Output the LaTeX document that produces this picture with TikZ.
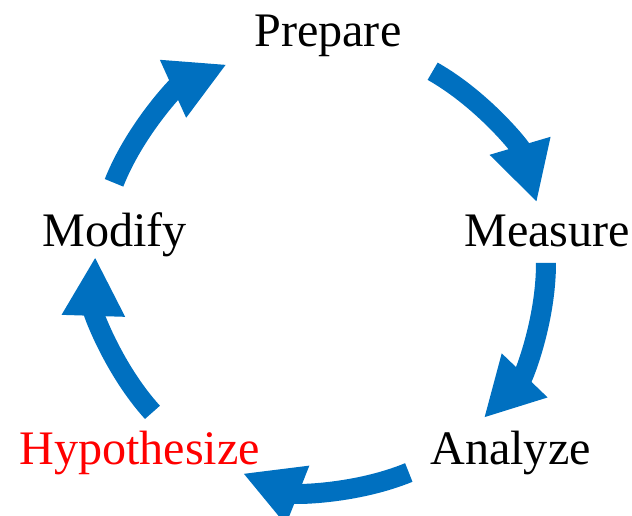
\documentclass[tikz,border=0pt]{standalone}
\usepackage{fontspec}
\setmainfont{Liberation Serif}
\usepackage{tikz}
\usetikzlibrary{arrows.meta}
\definecolor{cycleblue}{RGB}{0,112,192}
\definecolor{hyred}{RGB}{255,0,0}
\tikzset{
	stage/.style = {
		inner sep = 0pt,
		anchor = base west,
		font = \fontsize{27.4pt}{33pt}\selectfont
	},
	flow/.style = {
		draw = cycleblue,
		line width = 0.4cm,
		-{Triangle[length=1.18cm, width=1.18cm]},
		bend left = 22,
		looseness = 0.88
	}
}

\begin{document}
\begin{tikzpicture}[x=0.02cm, y=0.02cm]
    \useasboundingbox (0,0) rectangle (632,516) ;

    \node [stage] (prepare) at (254,469) {Prepare} ;
    \node [stage] (measure) at (464,269) {Measure} ;
    \node [stage] (analyze) at (430,51) {Analyze} ;
    \node [stage, text = hyred] (hypothesize) at (19,51) {Hypothesize} ;
    \node [stage] (modify) at (42,269) {Modify} ;

    % the circle all five arrows run on
    \coordinate (c) at (322,250) ;
    \coordinate (prepare-out) at ([shift={(60.4:224)}]c) ;
    \coordinate (measure-in) at ([shift={(16.5:224)}]c) ;
    \coordinate (measure-out) at ([shift={(0.8:224)}]c) ;
    \coordinate (analyze-in) at ([shift={(-43.2:222)}]c) ;
    \coordinate (analyze-out) at ([shift={(-67.2:224)}]c) ;
    \coordinate (hypothesize-in) at ([shift={(-110.9:222)}]c) ;
    \coordinate (hypothesize-out) at ([shift={(-139.2:224)}]c) ;
    \coordinate (modify-in) at ([shift={(-182.3:227)}]c) ;
    \coordinate (modify-out) at ([shift={(158.2:224)}]c) ;
    \coordinate (prepare-in) at ([shift={(115.3:223)}]c) ;

    \draw [flow] (prepare-out) to (measure-in) ;
    \draw [flow] (measure-out) to (analyze-in) ;
    \draw [flow] (analyze-out) to (hypothesize-in) ;
    \draw [flow] (hypothesize-out) to (modify-in) ;
    \draw [flow] (modify-out) to (prepare-in) ;
\end{tikzpicture}
\end{document}
